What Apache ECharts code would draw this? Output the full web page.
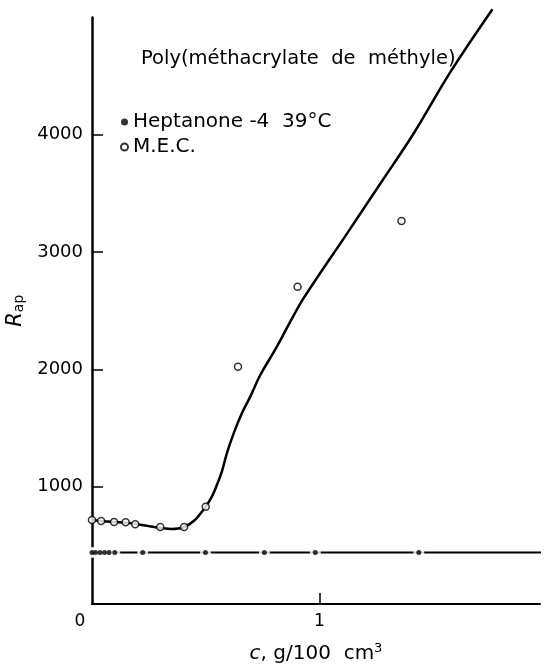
<!DOCTYPE html>
<html><head><meta charset="utf-8">
<script src="https://cdn.jsdelivr.net/npm/echarts@6/dist/echarts.min.js"></script>
<style>html,body{margin:0;padding:0;background:#fff}#c{width:548px;height:664px}</style>
</head><body><div id="c"></div>
<script>
// Smooth curve drawn through the data
const curveC = [0, 0.05, 0.1, 0.15, 0.2, 0.25, 0.3, 0.35, 0.4, 0.45, 0.5, 0.527, 0.549, 0.571, 0.593, 0.623, 0.659, 0.696, 0.74, 0.813, 0.872, 0.93, 1.122, 1.269, 1.415, 1.577, 1.761];
const curveR = [716, 706, 699, 692, 680, 664, 650, 640, 652, 712, 830, 915, 1014, 1128, 1285, 1455, 1626, 1768, 1952, 2194, 2407, 2605, 3160, 3587, 4013, 4538, 5070];
// M.E.C. (open circles)
const mecC = [0, 0.04, 0.097, 0.148, 0.19, 0.30, 0.405, 0.50, 0.642, 0.904, 1.361];
const mecR = [716, 708, 700, 696, 680, 656, 656, 830, 2023, 2705, 3265];
// Heptanone-4 39 °C (filled dots)
const hepC = [0, 0.015, 0.035, 0.055, 0.075, 0.1, 0.223, 0.499, 0.758, 0.982, 1.437];
const hepR = [440, 440, 440, 440, 440, 440, 440, 440, 440, 440, 440];
const hepLineC = [0, 2.0];
const hepLineR = [440, 440];
// ticks / labels
const yTicks = [1000, 2000, 3000, 4000];
const xTicks = [1];
const xLabels = [0, 1];
const titleText = 'Poly(méthacrylate  de  méthyle)';
const hepName = 'Heptanone -4  39°C';
const mecName = 'M.E.C.';

const zip = (a, b) => a.map((v, i) => [v, b[i]]);
const FONT = 'DejaVu Sans';
const chart = echarts.init(document.getElementById('c'), null, {renderer: 'canvas'});
chart.setOption({
  animation: false,
  backgroundColor: '#fff',
  textStyle: {fontFamily: FONT, color: '#000'},
  title: {text: titleText, left: 141, top: 49, padding: 0,
    textStyle: {fontFamily: FONT, fontSize: 19.5, fontWeight: 'normal', color: '#000'}},
  legend: {orient: 'vertical', left: 120, top: 112, itemWidth: 7, itemHeight: 7, itemGap: 5,
    selectedMode: false, padding: 0,
    textStyle: {fontFamily: FONT, fontSize: 20, color: '#000'},
    data: [{name: hepName, icon: 'circle'}, {name: mecName, icon: 'circle'}]},
  grid: {left: 92, right: 8, top: 17.5, bottom: 60, containLabel: false, outerBoundsMode: 'none'},
  xAxis: {
    type: 'value', min: 0, max: 1.97, interval: 1,
    name: '{i|c}, g/100  cm{sup|3}', nameLocation: 'middle', nameGap: 38,
    nameTextStyle: {fontFamily: FONT, fontSize: 20, color: '#000',
      rich: {i: {fontStyle: 'italic', fontFamily: FONT, fontSize: 20, color: '#000'},
             sup: {fontSize: 13, fontFamily: FONT, padding: [0, 0, 10, 0], color: '#000'}}},
    axisLine: {lineStyle: {color: '#000', width: 2}},
    axisTick: {inside: true, length: 11, lineStyle: {color: '#000', width: 1.5}, customValues: xTicks},
    axisLabel: {customValues: xLabels, margin: 9, fontFamily: FONT, fontSize: 17, color: '#000',
      formatter: v => v === 0 ? '{o|0}' : String(v),
      rich: {o: {padding: [0, 24, 0, 0], fontSize: 17, fontFamily: FONT, color: '#000'}}},
    splitLine: {show: false}
  },
  yAxis: {
    type: 'value', min: 0, max: 5000, interval: 1000,
    name: '{r|R}{s|ap}', nameLocation: 'middle', nameRotate: 90, nameGap: 58,
    nameTextStyle: {color: '#000',
      rich: {r: {fontStyle: 'italic', fontFamily: FONT, fontSize: 21, color: '#000'},
             s: {fontFamily: FONT, fontSize: 14, padding: [8, 0, 0, 0], color: '#000'}}},
    axisLine: {lineStyle: {color: '#000', width: 2.5}},
    axisTick: {inside: true, length: 11, lineStyle: {color: '#000', width: 1.5}, customValues: yTicks},
    axisLabel: {customValues: yTicks, margin: 9, fontFamily: FONT, fontSize: 18, color: '#000',
      formatter: v => String(v)},
    splitLine: {show: false}
  },
  series: [
    {type: 'line', name: 'hepLine', data: zip(hepLineC, hepLineR), symbol: 'none', clip: false, silent: true,
      lineStyle: {color: '#000', width: 2}, z: 2},
    {type: 'scatter', name: 'hepGap', data: zip(hepC, hepR), symbolSize: 11, silent: true,
      itemStyle: {color: '#fff'}, z: 3},
    {type: 'scatter', name: hepName, data: zip(hepC, hepR), symbolSize: 5,
      itemStyle: {color: '#000'}, z: 4},
    {type: 'line', name: 'curve', data: zip(curveC, curveR), smooth: 0.35, symbol: 'none', clip: false, silent: true,
      lineStyle: {color: '#000', width: 2.5}, z: 5},
    {type: 'scatter', name: mecName, data: zip(mecC, mecR), symbolSize: 7,
      itemStyle: {color: '#fff', borderColor: '#000', borderWidth: 1.5}, z: 6}
  ]
});
</script></body></html>
